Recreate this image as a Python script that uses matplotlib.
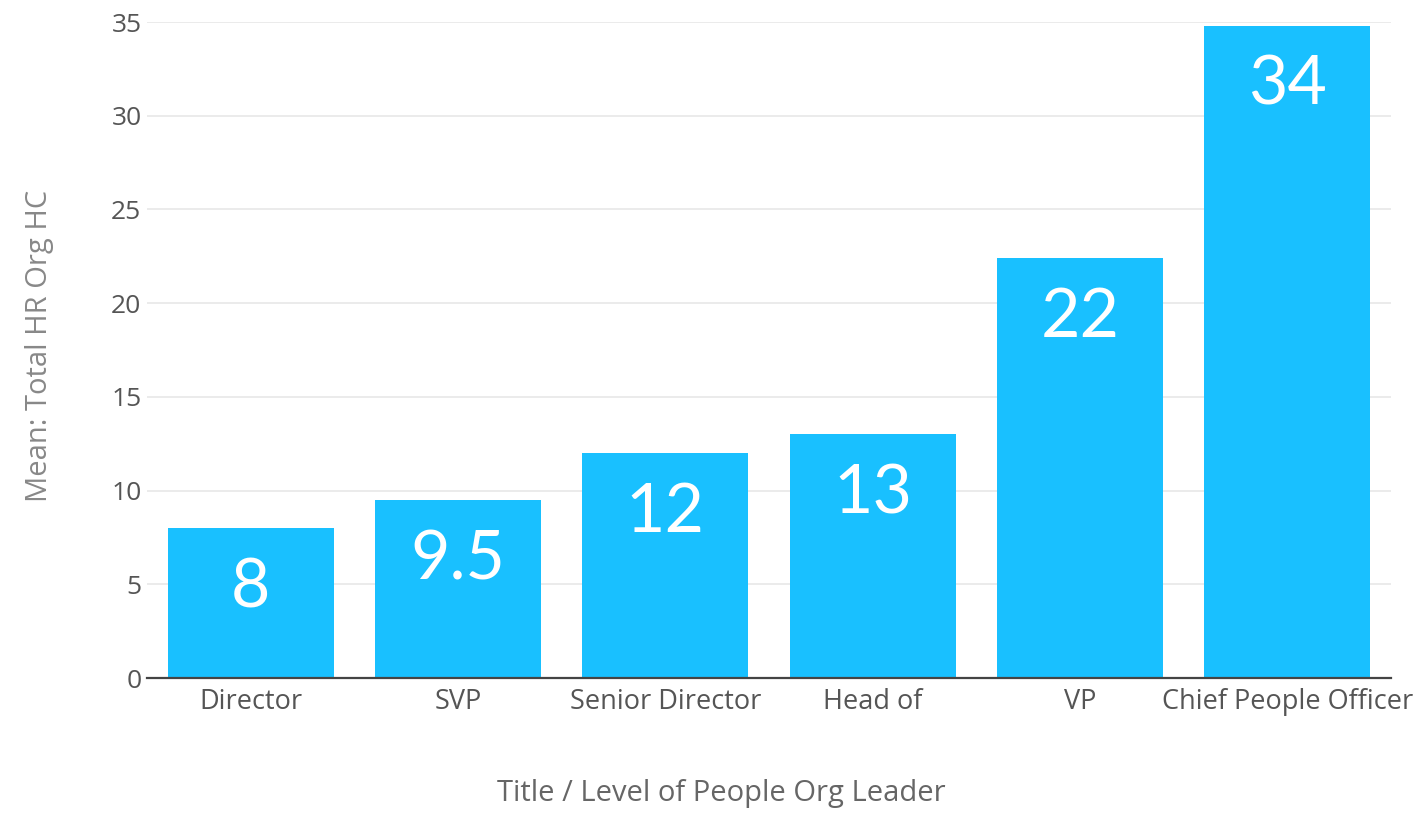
import matplotlib
matplotlib.use("Agg")
import matplotlib.pyplot as plt

# 数据
categories = ["Director", "SVP", "Senior Director", "Head of", "VP", "Chief People Officer"]
mean_hc = [8.0, 9.5, 12.0, 13.0, 22.4, 34.8]
value_labels = ["8", "9.5", "12", "13", "22", "34"]
y_ticks = [0, 5, 10, 15, 20, 25, 30, 35]

bar_color = "#19C0FF"
text_gray = "#555555"

fig = plt.figure(figsize=(14.21, 8.14), dpi=100)
ax = fig.add_axes([147 / 1421, 136 / 814, 1244 / 1421, 656 / 814])

x_pos = list(range(len(categories)))
ax.bar(x_pos, mean_hc, width=0.8, color=bar_color, zorder=3)

for xi, yi, lab in zip(x_pos, mean_hc, value_labels):
    ax.annotate(lab, (xi, yi), xytext=(0, -21), textcoords="offset points",
                ha="center", va="top", color="white", fontsize=49,
                family="Lato", zorder=4)

ax.set_xlim(-0.5, 5.5)
ax.set_ylim(0, 35)
ax.set_yticks(y_ticks)
ax.set_xticks(x_pos)
ax.set_xticklabels(categories, family="Open Sans", fontsize=19.5, color=text_gray)
for lbl in ax.get_yticklabels():
    lbl.set_family("Open Sans")
    lbl.set_fontsize(19)
    lbl.set_color(text_gray)

ax.tick_params(axis="both", length=0)
ax.tick_params(axis="y", pad=4)
ax.tick_params(axis="x", pad=7)
ax.grid(axis="y", color="#E8E8E8", linewidth=1.2, zorder=0)
for side in ["top", "right", "left"]:
    ax.spines[side].set_visible(False)
ax.spines["bottom"].set_color("#444444")
ax.spines["bottom"].set_linewidth(1.6)
ax.spines["bottom"].set_zorder(5)

fig.text(721 / 1421, 1 - 794 / 814, "Title / Level of People Org Leader",
         ha="center", va="center", family="Open Sans", fontsize=21, color="#666666")
fig.text(40 / 1421, 1 - 346 / 814, "Mean: Total HR Org HC", rotation=90,
         ha="center", va="center", family="Open Sans", fontsize=21, color="#888888")

fig.savefig("out.png", dpi=100)
